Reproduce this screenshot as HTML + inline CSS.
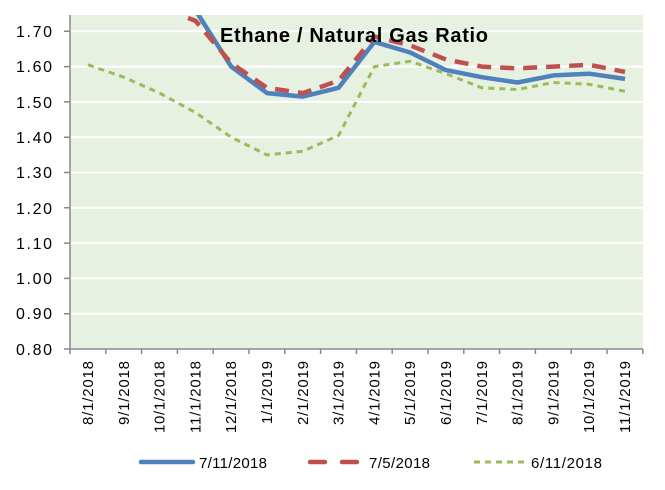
<!DOCTYPE html><html><head><style>body{margin:0;background:#fff}svg{display:block;font-family:"Liberation Sans",sans-serif}</style></head><body>
<svg width="665" height="490" viewBox="0 0 665 490">
<defs><clipPath id="c"><rect x="70" y="15" width="573" height="334"/></clipPath></defs>
<rect x="70" y="15" width="573" height="334" fill="#e6f1e2"/>
<g stroke="#fff" stroke-width="2">
<line x1="70" x2="643" y1="313.7" y2="313.7"/><line x1="70" x2="643" y1="278.4" y2="278.4"/><line x1="70" x2="643" y1="243.1" y2="243.1"/><line x1="70" x2="643" y1="207.8" y2="207.8"/><line x1="70" x2="643" y1="172.5" y2="172.5"/><line x1="70" x2="643" y1="137.2" y2="137.2"/><line x1="70" x2="643" y1="101.9" y2="101.9"/><line x1="70" x2="643" y1="66.6" y2="66.6"/><line x1="70" x2="643" y1="31.3" y2="31.3"/></g>
<g stroke="#888" stroke-width="1.5" fill="none"><path d="M70 15V349H643"/>
<path d="M64 349H70M64 313.7H70M64 278.4H70M64 243.1H70M64 207.8H70M64 172.5H70M64 137.2H70M64 101.9H70M64 66.6H70M64 31.3H70"/>
<path d="M70 349v5M105.8 349v5M141.6 349v5M177.4 349v5M213.2 349v5M249 349v5M284.8 349v5M320.6 349v5M356.4 349v5M392.2 349v5M428 349v5M463.8 349v5M499.6 349v5M535.4 349v5M571.2 349v5M607 349v5M642.8 349v5"/></g>
<g font-size="16" text-anchor="end" fill="#000">
<text x="52" y="355" textLength="36">0.80</text><text x="52" y="319" textLength="36">0.90</text><text x="52" y="284" textLength="36">1.00</text><text x="52" y="249" textLength="36">1.10</text><text x="52" y="214" textLength="36">1.20</text><text x="52" y="178" textLength="36">1.30</text><text x="52" y="143" textLength="36">1.40</text><text x="52" y="108" textLength="36">1.50</text><text x="52" y="72" textLength="36">1.60</text><text x="52" y="37" textLength="36">1.70</text></g>
<g font-size="15" text-anchor="end" fill="#000">
<text transform="translate(93,361) rotate(-90)" textLength="64">8/1/2018</text>
<text transform="translate(128.8,361) rotate(-90)" textLength="64">9/1/2018</text>
<text transform="translate(164.6,361) rotate(-90)" textLength="72">10/1/2018</text>
<text transform="translate(200.4,361) rotate(-90)" textLength="72">11/1/2018</text>
<text transform="translate(236.2,361) rotate(-90)" textLength="72">12/1/2018</text>
<text transform="translate(272,361) rotate(-90)" textLength="63">1/1/2019</text>
<text transform="translate(307.8,361) rotate(-90)" textLength="64">2/1/2019</text>
<text transform="translate(343.6,361) rotate(-90)" textLength="64">3/1/2019</text>
<text transform="translate(379.4,361) rotate(-90)" textLength="64">4/1/2019</text>
<text transform="translate(415.2,361) rotate(-90)" textLength="64">5/1/2019</text>
<text transform="translate(451,361) rotate(-90)" textLength="64">6/1/2019</text>
<text transform="translate(486.8,361) rotate(-90)" textLength="64">7/1/2019</text>
<text transform="translate(522.6,361) rotate(-90)" textLength="64">8/1/2019</text>
<text transform="translate(558.4,361) rotate(-90)" textLength="64">9/1/2019</text>
<text transform="translate(594.2,361) rotate(-90)" textLength="72">10/1/2019</text>
<text transform="translate(630,361) rotate(-90)" textLength="72">11/1/2019</text></g>
<g clip-path="url(#c)" fill="none" stroke-linejoin="round">
<polyline stroke="#9bbb59" stroke-width="3" stroke-dasharray="6,5" points="88,64.8 123.8,77.2 159.6,93.1 195.4,112.5 231.2,137.2 267,154.9 302.8,151.3 338.6,135.4 374.4,66.6 410.2,61.3 446,73.7 481.8,87.8 517.6,89.5 553.4,82.5 589.2,84.3 625,91.3"/>
<polyline stroke="#4f81bd" stroke-width="4.5" points="170,-15 195.4,10.1 231.2,66.6 267,93.1 302.8,96.6 338.6,87.8 374.4,41.9 410.2,52.5 446,70.1 481.8,77.2 517.6,82.5 553.4,75.4 589.2,73.7 625,78.9"/>
<polyline stroke="#c0504d" stroke-width="4.5" stroke-dasharray="14,9" points="188,18 195.4,20.7 231.2,63.1 267,87.8 302.8,93.1 338.6,80.7 374.4,36.6 410.2,45.4 446,59.5 481.8,66.6 517.6,68.4 553.4,66.6 589.2,64.8 625,71.9"/>
</g>
<text x="220" y="42" font-size="20" font-weight="bold" fill="#000" textLength="268">Ethane / Natural Gas Ratio</text>
<g font-size="15" fill="#000">
<line x1="141" x2="193" y1="462" y2="462" stroke="#4f81bd" stroke-width="4.5" stroke-linecap="round"/>
<text x="199" y="468" textLength="68">7/11/2018</text>
<path d="M310 462H325M342 462H357" stroke="#c0504d" stroke-width="4.5" stroke-linecap="round"/>
<text x="369" y="468" textLength="61">7/5/2018</text>
<line x1="474" x2="526" y1="462" y2="462" stroke="#9bbb59" stroke-width="3" stroke-dasharray="6,5"/>
<text x="531" y="468" textLength="71">6/11/2018</text></g>
</svg></body></html>
